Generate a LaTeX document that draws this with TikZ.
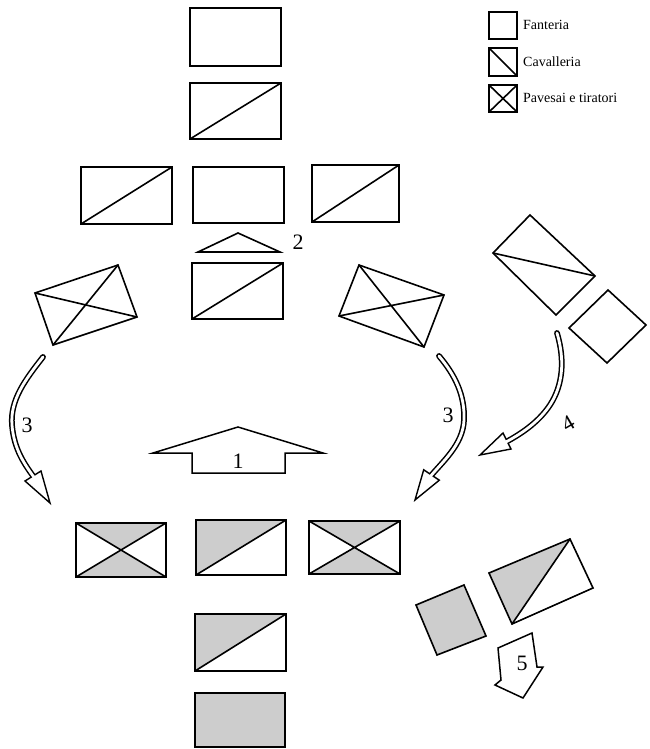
\documentclass[tikz,border=0pt]{standalone}
\usepackage{fontspec}
\setmainfont{Liberation Serif}
\definecolor{shade}{RGB}{205,205,205}
\tikzset{
  unit/.style={draw=black, line width=1.6pt, line join=miter},
  shaded/.style={fill=shade},
  legendtext/.style={anchor=west, font=\fontsize{14}{15}\selectfont, inner sep=0pt},
  num/.style={font=\fontsize{22}{24}\selectfont, inner sep=0pt},
  shaftout/.style={draw=black, line width=5.8pt, line cap=round},
  shaftin/.style={draw=white, line width=2.8pt, line cap=round},
  head/.style={draw=black, fill=white, line width=1.4pt, line join=miter},
  bigarrow/.style={draw=black, fill=white, line width=1.5pt, line join=miter}
}
\begin{document}
\begin{tikzpicture}[x=1pt,y=-1pt]
\useasboundingbox[fill=white] (0,0) rectangle (649,749);

% ---------- legend ----------
\draw[unit] (489,12) rectangle (517,39);
\node[legendtext] (lf) at (523,25) {Fanteria};
\draw[unit] (489,48) rectangle (517,76); \draw[unit] (489,48) -- (517,76);
\node[legendtext] (lc) at (523,62) {Cavalleria};
\draw[unit] (489,85) rectangle (517,112);
\draw[unit] (489,85) -- (517,112) (489,112) -- (517,85);
\node[legendtext] (lp) at (523,98) {Pavesai e tiratori};

% ---------- top column ----------
\draw[unit] (190,8) rectangle (281,66);
\draw[unit] (190,83) rectangle (281,139); \draw[unit] (190,139) -- (281,83);
\draw[unit] (81,167) rectangle (172,224); \draw[unit] (81,224) -- (172,167);
\draw[unit] (193,167) rectangle (284,223);
\draw[unit] (312,165) rectangle (399,222); \draw[unit] (312,222) -- (399,165);
\draw[unit] (198,252) -- (238,233) -- (280,252) -- cycle;
\node[num] (n2) at (298,242) {2};
\draw[unit] (192,263) rectangle (283,319); \draw[unit] (192,319) -- (283,263);

% ---------- rotated pavesai ----------
\draw[unit] (35,293) -- (118,265) -- (137,317) -- (53,345) -- cycle;
\draw[unit] (35,293) -- (137,317) (118,265) -- (53,345);
\draw[unit] (359,265) -- (444,295) -- (424,347) -- (339,316) -- cycle;
\draw[unit] (359,265) -- (424,347) (444,295) -- (339,316);

% ---------- far right cavalry and infantry ----------
\draw[unit] (530,215) -- (595,276) -- (556,315) -- (493,253) -- cycle;
\draw[unit] (493,253) -- (595,276);
\draw[unit] (608,290) -- (646,325) -- (607,363) -- (569,328) -- cycle;

% ---------- curved arrows ----------
% left 3
\coordinate (l3s) at (43,357);
\coordinate (l3e) at (36,480);
\draw[shaftout] (l3s) .. controls (25,380) and (10,400) .. (12,425) .. controls (14,450) and (25,465) .. (l3e);
\draw[head] (25,481) -- (50,503) -- (41,471) -- cycle;
\draw[shaftin] (l3s) .. controls (25,380) and (10,400) .. (12,425) .. controls (14,450) and (25,465) .. (l3e);
\node[num] (n3l) at (27,425) {3};

% right 3
\coordinate (r3s) at (439,356);
\coordinate (r3e) at (429,478);
\draw[shaftout] (r3s) .. controls (455,375) and (465,395) .. (464,420) .. controls (463,445) and (442,462) .. (r3e);
\draw[head] (423.7,469.8) -- (415,500) -- (439.3,480.2) -- cycle;
\draw[shaftin] (r3s) .. controls (455,375) and (465,395) .. (464,420) .. controls (463,445) and (442,462) .. (r3e);
\node[num] (n3r) at (448,415) {3};

% 4
\coordinate (a4s) at (557,333);
\coordinate (a4e) at (504,443);
\draw[shaftout] (a4s) .. controls (565,360) and (563,385) .. (550,405) .. controls (540,420) and (525,432) .. (a4e);
\draw[head] (503,433) -- (480,455) -- (511,449) -- cycle;
\draw[shaftin] (a4s) .. controls (565,360) and (563,385) .. (550,405) .. controls (540,420) and (525,432) .. (a4e);
\node[num, rotate=30] (n4) at (568,423) {4};

% ---------- arrow 1 ----------
\draw[bigarrow] (153,453) -- (238,427) -- (323,453) -- (285,453) -- (285,473) -- (192,473) -- (192,453) -- cycle;
\node[num] (n1) at (238,461) {1};

% ---------- bottom row ----------
\fill[shaded] (76,523) -- (166,523) -- (121,550) -- cycle;
\fill[shaded] (76,577) -- (166,577) -- (121,550) -- cycle;
\draw[unit] (76,523) rectangle (166,577);
\draw[unit] (76,523) -- (166,577) (76,577) -- (166,523);

\fill[shaded] (196,575) -- (196,520) -- (286,520) -- cycle;
\draw[unit] (196,520) rectangle (286,575); \draw[unit] (196,575) -- (286,520);

\fill[shaded] (309,521) -- (400,521) -- (354.5,547.5) -- cycle;
\fill[shaded] (309,574) -- (400,574) -- (354.5,547.5) -- cycle;
\draw[unit] (309,521) rectangle (400,574);
\draw[unit] (309,521) -- (400,574) (309,574) -- (400,521);

% ---------- bottom column ----------
\fill[shaded] (195,671) -- (195,614) -- (286,614) -- cycle;
\draw[unit] (195,614) rectangle (286,671); \draw[unit] (195,671) -- (286,614);
\draw[unit, shaded] (195,693) rectangle (285,747);

% ---------- bottom right ----------
\draw[unit, shaded] (416,605) -- (464,585) -- (486,636) -- (437,655) -- cycle;
\fill[shaded] (489,573) -- (570,539) -- (512,624) -- cycle;
\draw[unit] (489,573) -- (570,539) -- (593,588) -- (512,624) -- cycle;
\draw[unit] (512,624) -- (570,539);

% arrow 5
\draw[bigarrow] (498,648) -- (532,633) -- (537,667) -- (543,667) -- (523,698) -- (495,685) -- (501,680) -- cycle;
\node[num] (n5) at (522,663) {5};
\end{tikzpicture}
\end{document}
